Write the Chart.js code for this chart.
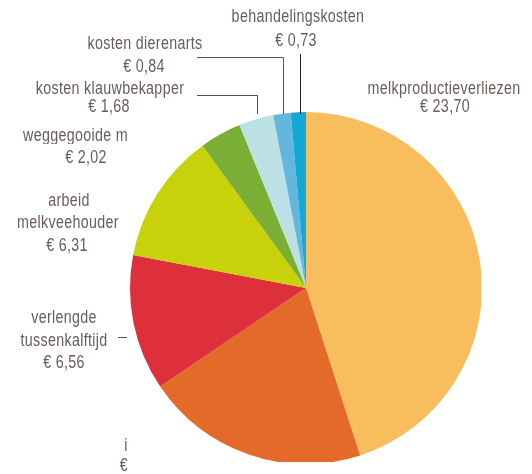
<!DOCTYPE html>
<html>
<head>
<meta charset="utf-8">
<script src="https://cdn.jsdelivr.net/npm/chart.js@4.4.1/dist/chart.umd.min.js"></script>
<style>
  html, body { margin: 0; padding: 0; background: #fff; }
  body {
    width: 532px; height: 474px; overflow: hidden; position: relative;
    font-family: "Liberation Sans", Arial, sans-serif;
  }
  #clip { position: absolute; left: 0; top: 0; width: 481px; height: 462px; overflow: hidden; }
  #pie { position: absolute; left: 0; top: 0; }
  .lbl {
    position: absolute; font-size: 17.5px; line-height: 18px; color: #6a5c58;
    letter-spacing: 0.4px; white-space: nowrap;
    transform: translate(-50%, -50%) scaleX(0.815);
  }
  .cut { transform-origin: 0 50%; transform: translate(0, -50%) scaleX(0.815); overflow: hidden; }
</style>
</head>
<body>
<div id="clip"><canvas id="pie" width="700" height="700"></canvas></div>
<script>
// * kosten per koe (slices clockwise from top)
const categories = ["melkproductieverliezen", "…", "verlengde tussenkalftijd", "arbeid melkveehouder",
  "weggegooide melk", "kosten klauwbekapper", "kosten dierenarts", "behandelingskosten"];
const costs = [23.70, 10.80, 6.56, 6.31, 2.02, 1.68, 0.84, 0.73];
const sliceColors = ["#f8bd5d", "#e36a29", "#de303a", "#c8d20a", "#7aae35", "#bbe0e6", "#63b6dd", "#12a8d3"];

const euro = (v) => "€ " + v.toFixed(2).replace(".", ",");

// ? label lines: [category index, text (null = amount), center x, center y]
const labelLines = [
  [7, "behandelingskosten", 298, 16],
  [7, null, 296, 40],
  [6, "kosten dierenarts", 145, 43],
  [6, null, 144, 66],
  [5, "kosten klauwbekapper", 110, 88],
  [5, null, 109, 106],
  [4, null, 86, 157],
  [3, "arbeid", 69, 200],
  [3, "melkveehouder", 68, 222],
  [3, null, 67, 245],
  [2, "verlengde", 64, 317],
  [2, "tussenkalftijd", 64, 340],
  [2, null, 64, 362],
  [0, "melkproductieverliezen", 444, 88],
  [0, null, 445, 106],
];

labelLines.forEach(([i, text, x, y]) => {
  const d = document.createElement("div");
  d.className = "lbl";
  d.textContent = text === null ? euro(costs[i]) : text;
  d.style.left = x + "px";
  d.style.top = y + "px";
  document.body.appendChild(d);
});

// label that runs behind the pie
const cutLabel = document.createElement("div");
cutLabel.className = "lbl cut";
cutLabel.textContent = categories[4];
cutLabel.style.left = "23px";
cutLabel.style.top = "135px";
cutLabel.style.width = (104 / 0.815) + "px";
document.body.appendChild(cutLabel);

// fragments of the bottom label
[["i", 126, 445], ["€", 124, 465]].forEach(([t, x, y]) => {
  const d = document.createElement("div");
  d.className = "lbl";
  d.textContent = t;
  d.style.left = x + "px";
  d.style.top = y + "px";
  document.body.appendChild(d);
});

const leaderLines = {
  id: "leaderLines",
  afterDraw(chart) {
    const ctx = chart.ctx;
    ctx.save();
    ctx.lineWidth = 1;
    ctx.strokeStyle = "#1e1e1e";
    ctx.beginPath();
    ctx.moveTo(300.5, 54); ctx.lineTo(300.5, 114);
    ctx.stroke();
    ctx.strokeStyle = "#555";
    ctx.beginPath();
    ctx.moveTo(197, 57.5); ctx.lineTo(283.5, 57.5); ctx.lineTo(283.5, 114);
    ctx.moveTo(197, 95.5); ctx.lineTo(257.5, 95.5); ctx.lineTo(257.5, 114);
    ctx.moveTo(118, 337.5); ctx.lineTo(127, 337.5);
    ctx.stroke();
    ctx.restore();
  },
};

const pieChart = new Chart(document.getElementById("pie").getContext("2d"), {
  type: "pie",
  data: {
    labels: categories,
    datasets: [{ data: costs, backgroundColor: sliceColors, borderWidth: 0 }],
  },
  options: {
    responsive: false,
    animation: false,
    layout: { padding: { left: 130, top: 112, right: 218, bottom: 236 } },
    plugins: { legend: { display: false }, tooltip: { enabled: false } },
  },
  plugins: [leaderLines],
});
</script>
</body>
</html>
